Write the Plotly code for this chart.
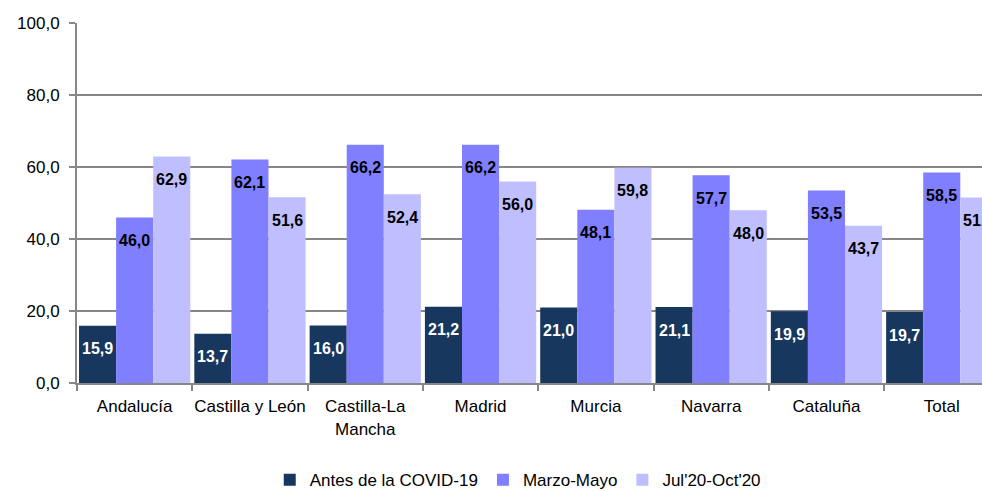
import plotly.graph_objects as go

regiones = ["Andalucía", "Castilla y León", "Castilla-La<br>Mancha", "Madrid",
            "Murcia", "Navarra", "Cataluña", "Total"]
antes_covid = [15.9, 13.7, 16.0, 21.2, 21.0, 21.1, 19.9, 19.7]
marzo_mayo = [46.0, 62.1, 66.2, 66.2, 48.1, 57.7, 53.5, 58.5]
jul_oct = [62.9, 51.6, 52.4, 56.0, 59.8, 48.0, 43.7, 51.5]

series = [
    ("Antes de la COVID-19", antes_covid, "#17375E", "white"),
    ("Marzo-Mayo", marzo_mayo, "#7F7FFF", "black"),
    ("Jul'20-Oct'20", jul_oct, "#BFBFFF", "black"),
]

FONT = "Liberation Sans, Arial, sans-serif"
AXIS = "#878787"

W, H = 982, 491
ML, MR, MT, MB = 77, 0, 23, 108
X_RANGE = [-0.5, 7.349]
BARGAP = 0.035

fig = go.Figure()
for name, vals, color, _ in series:
    fig.add_trace(go.Bar(x=regiones, y=vals, name=name, marker_color=color,
                         marker_line_width=0))

# value labels just below the top of each bar
cat_px = (W - ML - MR) / (X_RANGE[1] - X_RANGE[0])
bar_px = cat_px * (1 - BARGAP) / len(series)
for i, (name, vals, color, txtcolor) in enumerate(series):
    shift = (i - (len(series) - 1) / 2) * bar_px
    for reg, v in zip(regiones, vals):
        fig.add_annotation(
            x=reg, y=v, xref="x", yref="y", xshift=shift, yshift=-23,
            text=f"<b>{v:.1f}</b>".replace(".", ","), showarrow=False,
            xanchor="center", yanchor="middle",
            font=dict(family=FONT, size=16, color=txtcolor),
        )

fig.update_layout(
    width=W, height=H,
    margin=dict(l=ML, r=MR, t=MT, b=MB, autoexpand=False),
    paper_bgcolor="white", plot_bgcolor="white",
    barmode="group", bargap=BARGAP, bargroupgap=0,
    separators=",.",
    font=dict(family=FONT, size=17, color="black"),
    legend=dict(orientation="h", x=0.487, xanchor="center", y=-0.27,
                yanchor="middle", font=dict(size=17), traceorder="normal"),
    xaxis=dict(range=X_RANGE, showline=True, linecolor=AXIS, linewidth=2,
               ticks="outside", tickson="boundaries", ticklen=6, tickcolor=AXIS,
               tickwidth=2, showgrid=False, fixedrange=True, tickangle=0,
               ticklabelstandoff=7, automargin=False,
               tickfont=dict(size=17)),
    yaxis=dict(range=[0, 100], tickvals=[0, 20, 40, 60, 80, 100],
               tickformat=".1f", showline=True, linecolor=AXIS, linewidth=2,
               ticks="outside", ticklen=6, tickcolor=AXIS, tickwidth=2,
               ticklabelstandoff=6, automargin=False,
               showgrid=True, gridcolor=AXIS, gridwidth=1.5, zeroline=False,
               tickfont=dict(size=17)),
)

fig.write_html("out.html")
